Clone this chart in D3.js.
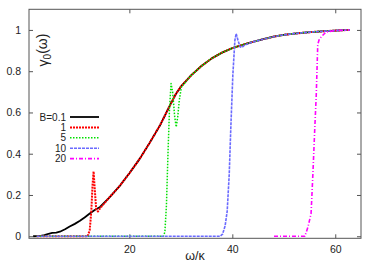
<!DOCTYPE html>
<html>
<head>
<meta charset="utf-8">
<script src="https://cdn.jsdelivr.net/npm/d3@7"></script>
<style>
  html, body { margin: 0; padding: 0; background: #fff; }
  svg { display: block; font-family: "Liberation Sans", Arial, Helvetica, sans-serif; }
</style>
</head>
<body>
<svg id="chart" width="374" height="262"></svg>
<script>
// ---- data ----
const xTicks = [20, 40, 60];
const yTicks = [0, 0.2, 0.4, 0.6, 0.8, 1];
const yTickLabels = ["0", "0.2", "0.4", "0.6", "0.8", "1"];
const seriesNames = ["B=0.1", "1", "5", "10", "20"];

// common curve (B = 0.1), [omega/kappa, gamma0]
const baseCurve = [
  [1.3, 0.0], [2.5, 0.001], [3.5, 0.005], [4.3, 0.012], [5.0, 0.016], [5.8, 0.018],
  [6.5, 0.022], [7.5, 0.034], [8.4, 0.047], [9.4, 0.06], [10.4, 0.075], [11.3, 0.091],
  [12.3, 0.11], [13.2, 0.126], [14.3, 0.142], [16, 0.185], [18, 0.24], [20, 0.305],
  [22, 0.375], [24, 0.455], [26, 0.54], [28, 0.64], [29, 0.688], [30, 0.725],
  [32, 0.78], [34, 0.825], [36, 0.862], [38, 0.89], [40, 0.912], [42, 0.928],
  [44, 0.942], [46, 0.955], [48, 0.967], [50, 0.976], [52, 0.982], [54, 0.987],
  [56, 0.991], [58, 0.994], [60, 0.997], [62.8, 1.0]
];
// onset parts of the other series (then they follow the common curve)
const onsetB1 = [[2, 0], [11.9, 0], [12.3, 0.03], [12.6, 0.12], [12.85, 0.25], [13.05, 0.314],
  [13.3, 0.22], [13.55, 0.13], [13.9, 0.12], [14.3, 0.135]];
const onsetB5 = [[2, 0], [26.6, 0], [26.9, 0.02], [27.2, 0.15], [27.5, 0.4], [27.8, 0.62],
  [28.1, 0.74], [28.4, 0.7], [28.8, 0.58], [29.1, 0.53], [29.4, 0.58], [29.7, 0.66], [30.1, 0.722]];
const onsetB10 = [[2, 0], [37.6, 0], [38.1, 0.01], [38.6, 0.05], [39.0, 0.12], [39.4, 0.3],
  [39.7, 0.52], [40.1, 0.78], [40.5, 0.95], [40.75, 0.982], [41.1, 0.95], [41.5, 0.918],
  [41.9, 0.916], [42.4, 0.927]];
const onsetB20 = [[48.1, 0], [54.1, 0], [54.7, 0.045], [55.3, 0.11], [55.65, 0.3], [56.0, 0.51],
  [56.3, 0.68], [56.6, 0.93], [56.9, 0.955], [57.5, 0.972], [58.2, 0.99]];

const colors = ["#000000", "#ff0000", "#00e000", "#6a6aff", "#ff00ff"];
const dashes = [null, "2,1", "1.5,1.5", "3,1", "4,2,1,2"];
const widths = [1.8, 2, 1.5, 1.6, 1.6];

function follow(onset) {
  const last = onset[onset.length - 1][0];
  return onset.concat(baseCurve.filter(d => d[0] > last));
}
const seriesData = [baseCurve, follow(onsetB1), follow(onsetB5), follow(onsetB10), follow(onsetB20)];

// ---- layout ----
const svg = d3.select("#chart");
const L = 29, R = 361, T = 9.3, B = 238.3;
const x = d3.scaleLinear().domain([0.5, 65]).range([L, R]);
const y = d3.scaleLinear().domain([-0.01, 1.1]).range([B, T]);

const frameColor = "#555";
const tickLen = 4;

// axes (ticks inward, mirrored)
const gx = svg.append("g").attr("transform", `translate(0,${B})`)
  .call(d3.axisBottom(x).tickValues(xTicks).tickSize(-tickLen).tickPadding(7).tickFormat(d3.format("d")));
const gxTop = svg.append("g").attr("transform", `translate(0,${T})`)
  .call(d3.axisTop(x).tickValues(xTicks).tickSize(-tickLen).tickFormat(""));
const gy = svg.append("g").attr("transform", `translate(${L},0)`)
  .call(d3.axisLeft(y).tickValues(yTicks).tickSize(-tickLen).tickPadding(8)
    .tickFormat((d, i) => yTickLabels[i]));
const gyR = svg.append("g").attr("transform", `translate(${R},0)`)
  .call(d3.axisRight(y).tickValues(yTicks).tickSize(-tickLen).tickFormat(""));

[gx, gxTop, gy, gyR].forEach(g => {
  g.select(".domain").remove();
  g.selectAll(".tick line").attr("stroke", frameColor).attr("stroke-width", 1);
  g.selectAll("text").attr("fill", "#222").style("font-size", "10.5px")
    .style("font-family", "'Liberation Sans', Arial, sans-serif");
});

svg.append("rect").attr("x", L).attr("y", T).attr("width", R - L).attr("height", B - T)
  .attr("fill", "none").attr("stroke", frameColor).attr("stroke-width", 1);

// ---- lines ----
const line = d3.line().x(d => x(d[0])).y(d => y(d[1]));
const plot = svg.append("g");
seriesData.forEach((data, i) => {
  plot.append("path").datum(data)
    .attr("d", line)
    .attr("fill", "none")
    .attr("stroke", colors[i])
    .attr("stroke-width", widths[i])
    .attr("stroke-dasharray", dashes[i])
    .attr("stroke-linejoin", "round");
});

// ---- legend ----
const legY0 = 117, legDy = 10.4;
const leg = svg.append("g");
seriesNames.forEach((name, i) => {
  const yy = legY0 + i * legDy;
  leg.append("text").attr("x", 66).attr("y", yy).attr("dy", "0.35em")
    .attr("text-anchor", "end").style("font-size", "10px").attr("fill", "#222").text(name);
  leg.append("line").attr("x1", 70).attr("x2", 99).attr("y1", yy).attr("y2", yy)
    .attr("stroke", colors[i]).attr("stroke-width", widths[i])
    .attr("stroke-dasharray", dashes[i]);
});

// ---- axis labels ----
svg.append("text").attr("x", 195).attr("y", 259.5)
  .attr("text-anchor", "middle").style("font-size", "12.5px").attr("fill", "#222")
  .text("ω/κ");

const yl = svg.append("text")
  .attr("transform", "translate(43,50) rotate(-90)")
  .attr("text-anchor", "middle").attr("dy", "0.35em")
  .style("font-size", "14px").attr("fill", "#222");
yl.append("tspan").text("γ");
yl.append("tspan").attr("dy", "0.3em").style("font-size", "10px").text("0");
yl.append("tspan").attr("dy", "-0.3em").text("(ω)");
</script>
</body>
</html>
